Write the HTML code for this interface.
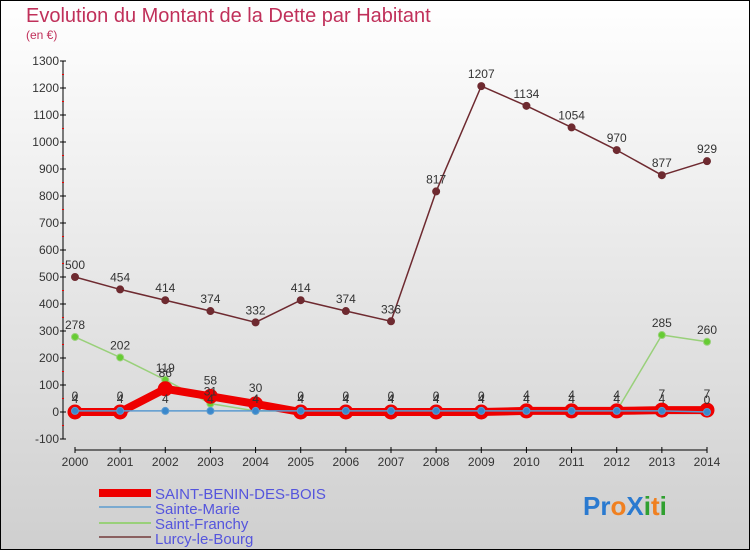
<!DOCTYPE html>
<html><head><meta charset="utf-8"><style>
html,body{margin:0;padding:0;}
body{width:750px;height:550px;overflow:hidden;font-family:"Liberation Sans",sans-serif;}
</style></head><body>
<svg id="chart" width="750" height="550" xmlns="http://www.w3.org/2000/svg" font-family="Liberation Sans, sans-serif">
<defs><linearGradient id="bg" x1="0" y1="0" x2="0" y2="1"><stop offset="0" stop-color="#ffffff"/><stop offset="1" stop-color="#cfcfcf"/></linearGradient></defs>
<rect x="0.5" y="0.5" width="749" height="549" fill="url(#bg)" stroke="#000" stroke-width="1"/>
<text x="26" y="22" font-size="20" fill="#c0305a">Evolution du Montant de la Dette par Habitant</text>
<text x="26" y="39" font-size="12" fill="#c0305a">(en €)</text>
<g id="axes"></g><g id="series"></g><g id="labels"></g>
<g font-size="15" fill="#5555dd">
<rect x="99" y="489" width="52" height="8" fill="#ee0000"/>
<text x="155" y="499">SAINT-BENIN-DES-BOIS</text>
<line x1="99" y1="507" x2="151" y2="507" stroke="#7aaad0" stroke-width="2"/>
<text x="155" y="514">Sainte-Marie</text>
<line x1="99" y1="523" x2="151" y2="523" stroke="#99d07a" stroke-width="2"/>
<text x="155" y="529">Saint-Franchy</text>
<line x1="99" y1="537" x2="151" y2="537" stroke="#8a6060" stroke-width="2"/>
<text x="155" y="544">Lurcy-le-Bourg</text>
</g>
<g font-size="26" font-weight="bold">
<text x="583" y="515"><tspan fill="#2a7ad0">Pr</tspan><tspan fill="#f08020">o</tspan><tspan fill="#2a7ad0">X</tspan><tspan fill="#30a030">i</tspan><tspan fill="#f08020">t</tspan><tspan fill="#30a030">i</tspan></text>
</g>
</svg>
<script>
const years=[2000,2001,2002,2003,2004,2005,2006,2007,2008,2009,2010,2011,2012,2013,2014];
const yTicks=[-100,0,100,200,300,400,500,600,700,800,900,1000,1100,1200,1300];
const saintBenin=[0,0,86,58,30,0,0,0,0,0,4,4,4,7,7];
const sainteMarie=[4,4,4,4,4,4,4,4,4,4,4,4,4,4,0];
const saintFranchy=[278,202,119,31,4,4,4,4,4,4,4,4,4,285,260];
const lurcy=[500,454,414,374,332,414,374,336,817,1207,1134,1054,970,877,929];
const NS='http://www.w3.org/2000/svg';
const X=i=>75+i*(707-75)/(years.length-1);
const Y=v=>412-v*0.27;
function mk(t,a,p){const e=document.createElementNS(NS,t);for(const k in a)e.setAttribute(k,a[k]);p.appendChild(e);return e;}
const ax=document.getElementById('axes'),sg=document.getElementById('series'),lg=document.getElementById('labels');
let yl=mk('line',{x1:63,y1:Y(1300),x2:63,y2:Y(-100),stroke:'#000'},ax);

yTicks.forEach(v=>{mk('line',{x1:60,y1:Y(v),x2:66,y2:Y(v),stroke:'#000'},ax);
 if(v<1300)mk('line',{x1:62,y1:Y(v+50),x2:64,y2:Y(v+50),stroke:'#e00'},ax);
 const t=mk('text',{x:59,y:Y(v)+4,'font-size':12,'text-anchor':'end',fill:'#333'},ax);t.textContent=v;
 });
let xl=mk('line',{x1:X(0),y1:450,x2:X(14),y2:450,stroke:'#000'},ax);

years.forEach((y,i)=>{mk('line',{x1:X(i),y1:447,x2:X(i),y2:453,stroke:'#000'},ax);
 const t=mk('text',{x:X(i),y:466,'font-size':12,'text-anchor':'middle',fill:'#333'},ax);t.textContent=y;
 });
function series(name,data,color,w,r,dot,lblDy){
 const g=mk('g',{},sg);
 mk('polyline',{points:data.map((v,i)=>X(i)+','+Y(v)).join(' '),fill:'none',stroke:color,'stroke-width':w,'stroke-linejoin':'round'},g);
 data.forEach((v,i)=>{const c=mk('circle',{cx:X(i),cy:Y(v),r:r,fill:dot,stroke:color,'stroke-width':1},g);
  
  const t=mk('text',{x:X(i),y:Y(v)+lblDy,'font-size':12,'text-anchor':'middle',fill:'#333'},lg);t.textContent=v;
  });
}
series('lurcy-le-bourg',lurcy,'#6e2a30',1.5,3.5,'#6e2a30',-8);
series('saint-franchy',saintFranchy,'#99d07a',1.5,3.5,'#66cc33',-8);
series('saint-benin-des-bois',saintBenin,'#ee0000',8,7,'#ee0000',-12);
series('sainte-marie',sainteMarie,'#5a9ad0',1.5,3.5,'#3a88cc',-8);
</script>
</body></html>
